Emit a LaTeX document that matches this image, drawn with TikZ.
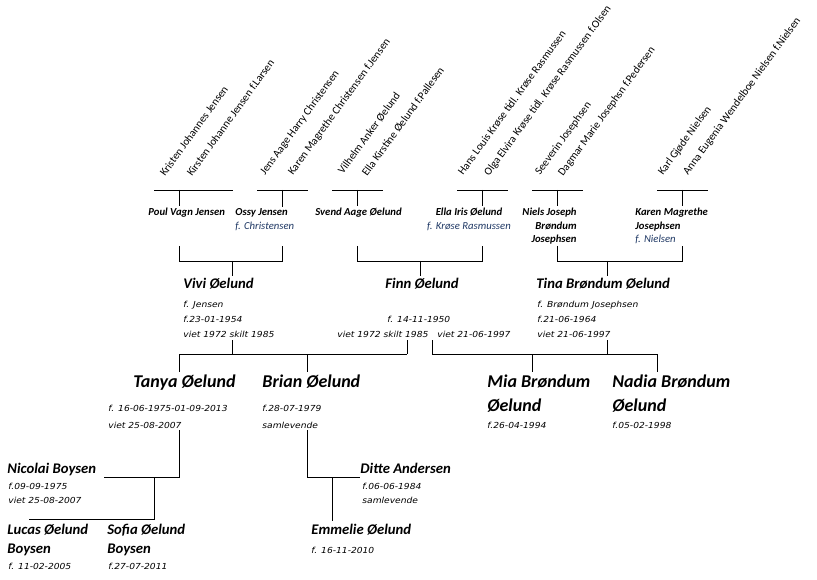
\documentclass[tikz,border=0pt]{standalone}
\usepackage{fontspec}
\setmainfont{Carlito}
\newfontfamily\datefont{DejaVu Sans}[FakeStretch=1.1]
\definecolor{nameblue}{RGB}{31,56,100}
\begin{document}
\begin{tikzpicture}[x=1pt, y=-1pt, line width=0.8pt,
    every node/.style={inner xsep=0pt, inner ysep=2pt},
    rotname/.style={rotate=54, anchor=base west, inner sep=0pt, font=\fontsize{11}{13}\selectfont},
    pname/.style={anchor=base west, align=left, font=\bfseries\itshape\fontsize{10.7}{13.5}\selectfont},
    mname/.style={anchor=base west, align=left, font=\bfseries\itshape\fontsize{14.7}{19}\selectfont},
    bname/.style={anchor=base west, align=left, font=\bfseries\itshape\fontsize{18}{24}\selectfont},
    info/.style={anchor=base west, align=left, font=\datefont\itshape\fontsize{8.3}{#1}\selectfont},
    info/.default=15]
    \useasboundingbox (0,0) rectangle (817,580);

    \node[rotname] (kristen) at (165,177) {Kristen Johannes Jensen};
    \node[rotname] (kirsten) at (192,177) {Kirsten Johanne Jensen f.Larsen};
    \node[rotname] (jens) at (265,176) {Jens Aage Harry Christensen};
    \node[rotname] (karenc) at (293,176) {Karen Magrethe Christensen f.Jensen};
    \node[rotname] (vilhelm) at (343,175) {Vilhelm Anker Øelund};
    \node[rotname] (ellak) at (367,177) {Ella Kirstine Øelund f.Pallesen};
    \node[rotname] (hans) at (463,176) {Hans Louis Krøse tidl. Krøse Rasmussen};
    \node[rotname] (olga) at (489,177) {Olga Elvira Krøse tidl. Krøse Rasmussen f.Olsen};
    \node[rotname] (seeverin) at (540,176) {Seeverin Josephsen};
    \node[rotname] (dagmar) at (563,177) {Dagmar Marie Josephsn f.Pedersen};
    \node[rotname] (karl) at (663,176) {Karl Gjøde Nielsen};
    \node[rotname] (anna) at (688,176) {Anna Eugenia Wendelboe Nielsen f.Nielsen};

    \node[pname] (poul) at (148,216) {Poul Vagn Jensen};
    \node[pname] (ossy) at (235,229.5) {Ossy Jensen\\\textcolor{nameblue}{\mdseries f. Christensen}};
    \node[pname] (svend) at (315,216) {Svend Aage Øelund};
    \node[pname, anchor=base, align=center] (ellai) at (469,229.5) {Ella Iris Øelund\\\textcolor{nameblue}{\mdseries f. Krøse Rasmussen}};
    \node[pname, anchor=base east, align=right] (niels) at (577,243) {Niels Joseph\\Brøndum\\Josephsen};
    \node[pname] (karenm) at (635,243) {Karen Magrethe\\Josephsen\\\textcolor{nameblue}{\mdseries f. Nielsen}};

    \node[mname] (vivi) at (183,289) {Vivi Øelund};
    \node[info] (vivii) at (183,337) {f. Jensen\\f.23-01-1954\\viet 1972 skilt 1985};
    \node[mname] (finn) at (385,289) {Finn Øelund};
    \node[info] (finni) at (387,322) {f. 14-11-1950};
    \node[info] (finnv) at (337,337) {viet 1972 skilt 1985};
    \node[info] (finnt) at (437,337) {viet 21-06-1997};
    \node[mname] (tina) at (536,289) {Tina Brøndum Øelund};
    \node[info] (tinai) at (537,337) {f. Brøndum Josephsen\\f.21-06-1964\\viet 21-06-1997};

    \node[bname] (tanya) at (133,387) {Tanya Øelund};
    \node[info=17] (tanyai) at (108,428) {f. 16-06-1975-01-09-2013\\viet 25-08-2007};
    \node[bname] (brian) at (262,387) {Brian Øelund};
    \node[info=17] (briani) at (262,428) {f.28-07-1979\\samlevende};
    \node[bname] (mia) at (487,411) {Mia Brøndum\\Øelund};
    \node[info] (miai) at (487,428) {f.26-04-1994};
    \node[bname] (nadia) at (612,411) {Nadia Brøndum\\Øelund};
    \node[info] (nadiai) at (612,428) {f.05-02-1998};

    \node[mname] (nicolai) at (7,473) {Nicolai Boysen};
    \node[info=14] (nicolaii) at (8,503) {f.09-09-1975\\viet 25-08-2007};
    \node[mname] (ditte) at (360,473) {Ditte Andersen};
    \node[info=14] (dittei) at (362,503) {f.06-06-1984\\samlevende};
    \node[mname] (lucas) at (7,553) {Lucas Øelund\\Boysen};
    \node[info] (lucasi) at (8,569) {f. 11-02-2005};
    \node[mname] (sofia) at (107,553) {Sofia Øelund\\Boysen};
    \node[info] (sofiai) at (108,569) {f.27-07-2011};
    \node[mname] (emmelie) at (311,534) {Emmelie Øelund};
    \node[info] (emmeliei) at (311,553) {f. 16-11-2010};

    \coordinate (poulL) at (154,190);
    \coordinate (poulT) at (179,190);
    \coordinate (poulR) at (233,190);
    \coordinate (ossyL) at (257,190);
    \coordinate (ossyT) at (282,190);
    \coordinate (ossyR) at (308,190);
    \coordinate (svendL) at (332,190);
    \coordinate (svendT) at (357,190);
    \coordinate (svendR) at (383,190);
    \coordinate (ellaL) at (457,190);
    \coordinate (ellaT) at (482,190);
    \coordinate (ellaR) at (508,190);
    \coordinate (nielsL) at (532,190);
    \coordinate (nielsT) at (557,190);
    \coordinate (nielsR) at (583,190);
    \coordinate (karenL) at (657,190);
    \coordinate (karenT) at (682,190);
    \coordinate (karenR) at (708,190);

    \draw (poulL) -- (poulR);
    \draw (ossyL) -- (ossyR);
    \draw (svendL) -- (svendR);
    \draw (ellaL) -- (ellaR);
    \draw (nielsL) -- (nielsR);
    \draw (karenL) -- (karenR);
    \draw (poulT) -- (poulT |- poul.north);
    \draw (ossyT) -- (ossyT |- ossy.north);
    \draw (svendT) -- (svendT |- svend.north);
    \draw (ellaT) -- (ellaT |- ellai.north);
    \draw (nielsT) -- (nielsT |- niels.north);
    \draw (karenT) -- (karenT |- karenm.north);

    \coordinate (row2b) at (0,246);
    \coordinate (viviJ) at (232,261);
    \coordinate (finnJ) at (420,261);
    \coordinate (tinaJ) at (607,261);
    \draw (poulT |- row2b) -- (poulT |- viviJ) -- (ossyT |- viviJ) -- (ossyT |- row2b);
    \draw (svendT |- row2b) -- (svendT |- finnJ) -- (ellaT |- finnJ) -- (ellaT |- row2b);
    \draw (nielsT |- row2b) -- (nielsT |- tinaJ) -- (karenT |- tinaJ) -- (karenT |- row2b);
    \draw (viviJ) -- (viviJ |- vivi.north);
    \draw (finnJ) -- (finnJ |- finn.north);
    \draw (tinaJ) -- (tinaJ |- tina.north);

    \coordinate (row3b) at (0,340);
    \coordinate (tanyaT) at (179,354);
    \coordinate (brianT) at (307,354);
    \coordinate (vf) at (407,354);
    \coordinate (ft) at (432,354);
    \coordinate (miaT) at (532,354);
    \coordinate (nadiaT) at (657,354);
    \draw (tanyaT) -- (vf);
    \draw (viviJ |- row3b) -- (viviJ |- vf);
    \draw (vf |- row3b) -- (vf);
    \draw (tanyaT) -- (tanyaT |- tanya.north);
    \draw (brianT) -- (brianT |- brian.north);
    \draw (ft) -- (nadiaT);
    \draw (ft |- row3b) -- (ft);
    \draw (tinaJ |- row3b) -- (tinaJ |- ft);
    \draw (miaT) -- (miaT |- mia.north);
    \draw (nadiaT) -- (nadiaT |- nadia.north);

    \coordinate (row4b) at (0,430);
    \coordinate (tn) at (179,477);
    \coordinate (nicolaiE) at (104,477);
    \coordinate (tnK) at (154,477);
    \coordinate (kidsL) at (29,519);
    \coordinate (bd) at (307,477);
    \coordinate (bdK) at (332,477);
    \draw (tanyaT |- row4b) -- (tn) -- (nicolaiE);
    \draw (tnK) -- (tnK |- kidsL) -- (kidsL);
    \draw (brianT |- row4b) -- (bd) -- (ditte.west |- bd);
    \draw (bdK) -- (bdK |- emmelie.north);
\end{tikzpicture}
\end{document}
